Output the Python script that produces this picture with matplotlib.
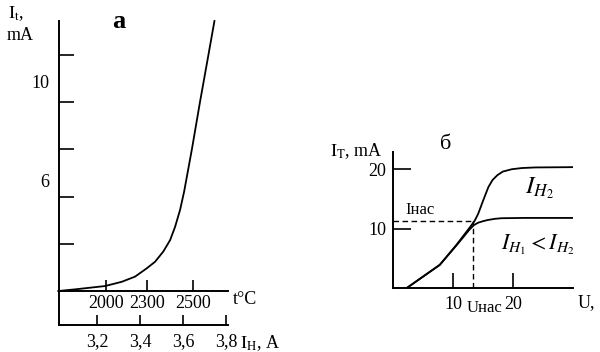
import matplotlib
matplotlib.use("Agg")
import matplotlib.pyplot as plt

plt.rcParams['font.family'] = ['Liberation Serif', 'DejaVu Serif']
plt.rcParams['mathtext.fontset'] = 'stix'

# panel "a": emission current vs filament current / temperature
ih_a = [3.020, 3.098, 3.237, 3.315, 3.377, 3.431, 3.470, 3.508, 3.540,
        3.563, 3.586, 3.605, 3.642, 3.679, 3.713, 3.746]
it_ma = [0.0, 0.07, 0.21, 0.39, 0.61, 0.96, 1.24, 1.67, 2.16,
         2.72, 3.43, 4.21, 6.05, 8.02, 9.75, 11.44]
ih_ticks = [3.2, 3.4, 3.6, 3.8]
ih_labels = ['3,2', '3,4', '3,6', '3,8']
t_pos = [3.242, 3.433, 3.647]
t_labels = ['2000', '2300', '2500']
ya_minor = [2, 4, 6, 8, 10]
ya_pos = [4.7, 8.86]
ya_labels = ['6', '10']

# panel "б": anode current vs voltage
u_low = [2.3, 7.8, 10.6, 12.8, 13.5, 14.2, 15.0, 15.8, 17.0, 18.1, 22, 30]
i_low = [0, 3.9, 7.2, 9.9, 10.6, 11.0, 11.25, 11.45, 11.65, 11.75, 11.8, 11.8]
u_high = [2.3, 7.8, 10.6, 12.8, 13.6, 14.2, 15.05, 15.9, 16.6, 17.4, 18.3, 19.8, 21.5, 23.7, 30]
i_high = [0, 3.9, 7.3, 10.2, 11.3, 12.5, 14.8, 17.0, 18.2, 19.0, 19.6, 20.0, 20.2, 20.3, 20.35]
u_sat = 13.3
i_sat = 11.2

fig = plt.figure(figsize=(6, 3.52), dpi=100)
fs = 13

# ---- panel a ----
ax = fig.add_axes([59 / 600, 27 / 352, 169 / 600, 304 / 352])
ax.plot(ih_a, it_ma, color='black', lw=1.3, clip_on=False)
ax.set_xlim(3.0233, 3.809)
ax.set_ylim(-1.44, 11.44)
for s in ['top', 'right']:
    ax.spines[s].set_visible(False)
for s in ['left', 'bottom']:
    ax.spines[s].set_linewidth(1.4)
ax.set_xticks(ih_ticks, labels=ih_labels)
ax.tick_params(axis='x', direction='in', length=7, width=1.2, pad=6, labelsize=fs)
ax.set_yticks(ya_pos, labels=ya_labels)
ax.set_yticks(ya_minor, minor=True)
ax.tick_params(axis='y', which='major', length=0, pad=7, labelsize=fs)
ax.tick_params(axis='y', which='minor', direction='in', length=11, width=1.2)

frac = 1.44 / (11.44 + 1.44)
sec = ax.secondary_xaxis(frac)
sec.spines['bottom'].set_linewidth(1.4)
sec.set_xticks(t_pos, labels=t_labels)
sec.tick_params(axis='x', direction='in', length=8, width=1.2, pad=3, labelsize=fs)

fig.text(8 / 600, 1 - 14 / 352, r'$\mathrm{I_t}$,', fontsize=fs, va='center', ha='left')
fig.text(7 / 600, 1 - 35 / 352, 'mA', fontsize=fs, va='center', ha='left')
fig.text(119 / 600, 1 - 22 / 352, 'а', fontsize=19, fontweight='bold', va='center', ha='center')
fig.text(233 / 600, 1 - 300 / 352, 't°C', fontsize=fs, va='center', ha='left')
fig.text(240 / 600, 1 - 343 / 352, r'$\mathrm{I_H}$, A', fontsize=fs, va='center', ha='left')

# ---- panel б ----
bx = fig.add_axes([393 / 600, 64 / 352, 180 / 600, 136 / 352])
bx.plot(u_low, i_low, color='black', lw=1.3)
bx.plot(u_high, i_high, color='black', lw=1.3)
bx.plot([0, u_sat], [i_sat, i_sat], color='black', lw=1.0, dashes=(4, 2.5))
bx.plot([u_sat, u_sat], [0, i_sat], color='black', lw=1.0, dashes=(4, 2.5))
bx.set_xlim(0, 30)
bx.set_ylim(0, 22.9)
for s in ['top', 'right']:
    bx.spines[s].set_visible(False)
for s in ['left', 'bottom']:
    bx.spines[s].set_linewidth(1.4)
bx.set_xticks([10, 20])
bx.set_yticks([10, 20])
bx.tick_params(axis='x', direction='in', length=11, width=1.2, pad=6, labelsize=fs)
bx.tick_params(axis='y', direction='in', length=13, width=1.2, pad=5, labelsize=fs)

bx.text(15.3, -0.09, 'Uнас', transform=bx.get_xaxis_transform(), fontsize=12,
        va='top', ha='center')
bx.text(2.0, 13.1, 'Iнас', fontsize=12, va='center', ha='left')
fig.text(578 / 600, 1 - 303 / 352, 'U,', fontsize=fs, va='center', ha='left')
fig.text(330 / 600, 1 - 151 / 352, r'$\mathrm{I_T}$, mA', fontsize=fs, va='center', ha='left')
fig.text(446 / 600, 1 - 144 / 352, 'б', fontsize=16, va='center', ha='center')
fig.text(540 / 600, 1 - 188 / 352, r'$I_{H_2}$', fontsize=18, va='center', ha='center')
fig.text(538 / 600, 1 - 245 / 352, r'$I_{H_1} < I_{H_2}$', fontsize=16, va='center', ha='center')

fig.savefig('out.png', dpi=100)
